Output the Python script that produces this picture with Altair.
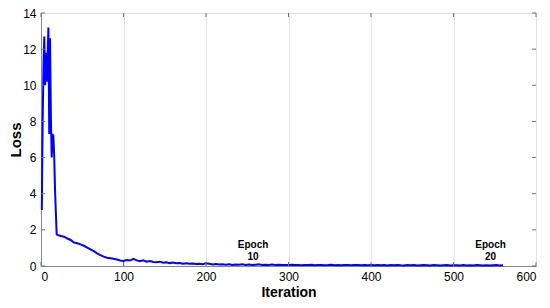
import altair as alt
import pandas as pd

# ---- data ----
early_iter = list(range(1, 20))
early_loss = [3.1, 8.0, 11.0, 12.7, 10.0, 11.8, 10.2, 11.6, 13.2, 7.3,
              12.6, 8.2, 6.0, 7.3, 7.2, 6.1, 4.2, 3.0, 1.75]

mid_iter = list(range(20, 220, 4))
mid_loss = [1.72, 1.66, 1.62, 1.52, 1.44, 1.30, 1.26, 1.20, 1.12, 1.02,
            0.92, 0.82, 0.70, 0.60, 0.52, 0.46, 0.43, 0.40, 0.36, 0.31,
            0.28, 0.33, 0.30, 0.40, 0.31, 0.27, 0.31, 0.24, 0.27, 0.22,
            0.21, 0.24, 0.18, 0.20, 0.16, 0.19, 0.15, 0.17, 0.13, 0.15,
            0.12, 0.14, 0.11, 0.13, 0.10, 0.15, 0.12, 0.09, 0.11, 0.08]

tail_iter = list(range(220, 561, 4))
tail_loss = [0.09, 0.07, 0.10, 0.06, 0.08, 0.07, 0.09, 0.06, 0.08, 0.05,
             0.07, 0.09, 0.06, 0.07, 0.05, 0.08, 0.06, 0.07, 0.05, 0.06, 0.05,
             0.07, 0.05, 0.06, 0.04, 0.06, 0.05, 0.07, 0.04, 0.05, 0.06,
             0.04, 0.05, 0.07, 0.04, 0.05, 0.04, 0.06, 0.05, 0.04, 0.05,
             0.06, 0.04, 0.05, 0.04, 0.05,
             0.04, 0.06, 0.04, 0.05, 0.03, 0.05, 0.04, 0.06, 0.04, 0.03,
             0.05, 0.04, 0.05, 0.03, 0.04, 0.05, 0.04, 0.03, 0.05, 0.04,
             0.03, 0.04, 0.05, 0.03, 0.04,
             0.04, 0.03, 0.05, 0.03, 0.04, 0.03, 0.05, 0.04, 0.03, 0.04,
             0.03, 0.04, 0.05, 0.03, 0.04]

ann_x = [257, 545]
ann_line1 = ["Epoch", "Epoch"]
ann_line2 = ["10", "20"]

x_ticks = [0, 100, 200, 300, 400, 500, 600]
y_ticks = [0, 2, 4, 6, 8, 10, 12, 14]

W, H = 495, 253
FONT = "Liberation Sans"
AXC = "#707070"

df = pd.DataFrame({
    "Iteration": early_iter + mid_iter + tail_iter,
    "Loss": early_loss + mid_loss + tail_loss,
})

xs = alt.Scale(domain=[0, 600], nice=False)
ys = alt.Scale(domain=[0, 14], nice=False)

xaxis = alt.Axis(values=x_ticks, title="Iteration", grid=True,
                 gridColor="#e3e3e3", ticks=False, labelPadding=5,
                 labelOverlap=False, labelFontSize=12,
                 titleFontSize=14, titleFontWeight="bold", titlePadding=3)
yaxis = alt.Axis(values=y_ticks, title="Loss", grid=False,
                 ticks=False, labelPadding=5, labelOverlap=False,
                 labelFontSize=12, titleFontSize=15, titleFontWeight="bold",
                 titlePadding=-1)

line = alt.Chart(df).mark_line(color="#0000ff", strokeWidth=2).encode(
    x=alt.X("Iteration:Q", scale=xs, axis=xaxis),
    y=alt.Y("Loss:Q", scale=ys, axis=yaxis),
)

ann = pd.DataFrame({"x": ann_x, "l1": ann_line1, "l2": ann_line2})
t1 = alt.Chart(ann).mark_text(font=FONT, fontSize=10, fontWeight="bold",
                              color="black", dy=-21).encode(
    x=alt.X("x:Q", scale=xs, axis=xaxis), y=alt.value(H), text="l1:N")
t2 = alt.Chart(ann).mark_text(font=FONT, fontSize=10, fontWeight="bold",
                              color="black", dy=-9).encode(
    x=alt.X("x:Q", scale=xs, axis=xaxis), y=alt.value(H), text="l2:N")

xt = pd.DataFrame({"v": x_ticks})
yt = pd.DataFrame({"v": y_ticks})
tick_b = alt.Chart(xt).mark_rule(color=AXC, strokeWidth=1).encode(
    x=alt.X("v:Q", scale=xs, axis=xaxis), y=alt.value(H), y2=alt.value(H - 4))
tick_t = alt.Chart(xt).mark_rule(color=AXC, strokeWidth=1).encode(
    x=alt.X("v:Q", scale=xs, axis=xaxis), y=alt.value(0), y2=alt.value(4))
tick_l = alt.Chart(yt).mark_rule(color=AXC, strokeWidth=1).encode(
    y=alt.Y("v:Q", scale=ys, axis=yaxis), x=alt.value(0), x2=alt.value(4))
tick_r = alt.Chart(yt).mark_rule(color=AXC, strokeWidth=1).encode(
    y=alt.Y("v:Q", scale=ys, axis=yaxis), x=alt.value(W - 4), x2=alt.value(W))

chart = alt.layer(line, tick_b, tick_t, tick_l, tick_r, t1, t2).properties(
    width=W, height=H,
    autosize=alt.AutoSizeParams(type="none"),
    padding={"left": 33, "top": 5, "right": 6, "bottom": 34},
).configure_view(stroke=AXC, strokeWidth=1).configure_axis(
    labelFont=FONT, titleFont=FONT, labelColor="#262626",
    titleColor="#262626", domainColor=AXC,
).configure(background="white")

chart.save("out.html", embed_options={"renderer": "svg", "actions": False})
